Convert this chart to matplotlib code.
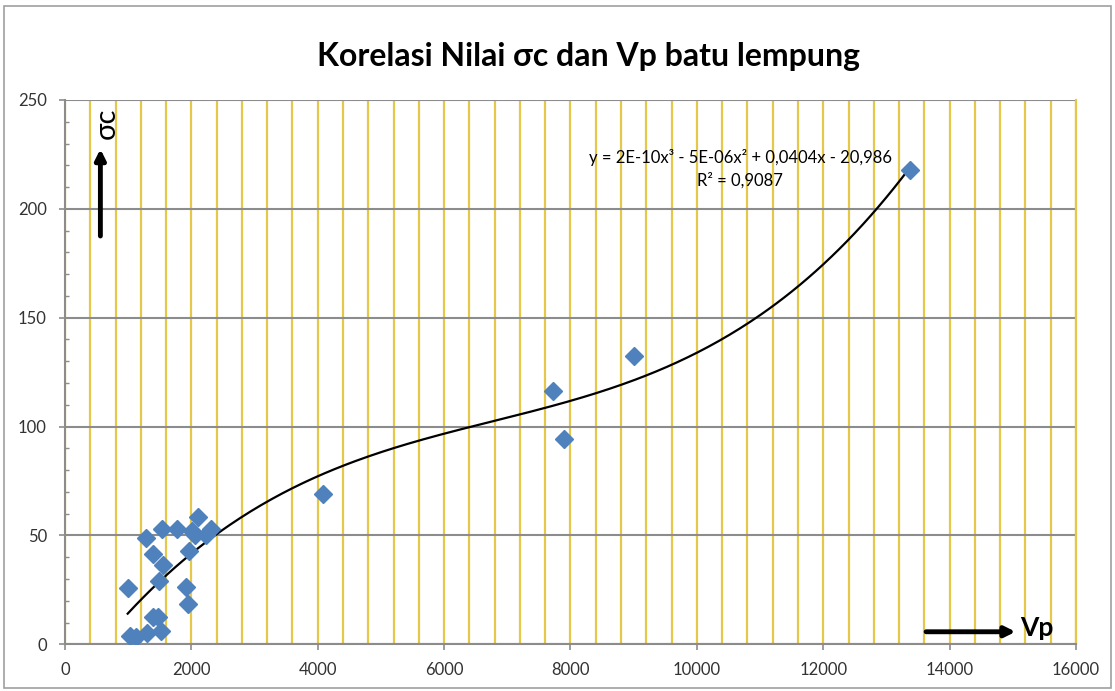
import numpy as np
import matplotlib
matplotlib.use("Agg")
import matplotlib.pyplot as plt
from matplotlib.ticker import MultipleLocator
from matplotlib.patches import Rectangle

plt.rcParams['font.family'] = ['Lato', 'DejaVu Sans']

# Vp (m/s) vs sigma_c, batu lempung
vp = [992, 1029, 1124, 1302, 1282, 1397, 1397, 1467, 1519, 1483, 1556, 1540, 1777,
      1915, 1951, 1962, 2005, 2057, 2110, 2227, 2306, 4088, 7727, 7897, 9005, 13372]
sigma_c = [25.7, 4.0, 3.5, 5.3, 48.8, 41.3, 12.4, 12.7, 6.2, 29.2, 36.4, 52.8, 53.0,
           26.5, 18.4, 42.9, 52.0, 50.2, 58.6, 50.2, 52.8, 69.0, 116.4, 94.3, 132.4, 217.9]

title = "Korelasi Nilai σc dan Vp batu lempung"
eq_text = "y = 2E-10x³ - 5E-06x² + 0,0404x - 20,986"
r2_text = "R² = 0,9087"

GOLD = "#E5C84A"
GRAY = "#8C8C8C"
BLUE = "#4F81BD"

fig = plt.figure(figsize=(11.15, 6.91), dpi=100)
fig.patches.append(Rectangle((0.004, 0.004), 0.992, 0.988, transform=fig.transFigure,
                             fill=False, edgecolor="#A0A0A0", linewidth=1.2))
ax = fig.add_axes([0.0583, 0.0676, 0.9067, 0.7877])

ax.set_xlim(0, 16000)
ax.set_ylim(0, 250)
ax.xaxis.set_major_locator(MultipleLocator(2000))
ax.xaxis.set_minor_locator(MultipleLocator(400))
ax.yaxis.set_major_locator(MultipleLocator(50))
ax.yaxis.set_minor_locator(MultipleLocator(10))

ax.grid(True, axis="x", which="both", color=GOLD, linewidth=1.6)
ax.grid(True, axis="y", which="major", color=GRAY, linewidth=1.5)
ax.set_axisbelow(True)

ax.spines["top"].set_visible(False)
ax.spines["right"].set_color(GOLD)
ax.spines["right"].set_linewidth(1.6)
for side in ("left", "bottom"):
    ax.spines[side].set_color(GRAY)
    ax.spines[side].set_linewidth(1.5)

ax.tick_params(axis="both", which="major", length=4, width=1.2, color=GRAY,
               labelsize=12, labelcolor="#333333", pad=9)
ax.tick_params(axis="x", which="minor", length=0)
ax.tick_params(axis="y", which="minor", direction="in", length=3, width=1, color=GRAY)

# trend line (3rd order polynomial)
coef = np.polyfit(vp, sigma_c, 3)
xs = np.linspace(min(vp), max(vp), 300)
ax.plot(xs, np.polyval(coef, xs), color="black", linewidth=1.6, zorder=3)

ax.plot(vp, sigma_c, linestyle="none", marker="D", markersize=9,
        color=BLUE, markeredgecolor=BLUE, zorder=4)

ax.text(0.668, 0.895, eq_text, transform=ax.transAxes, ha="center", va="center",
        fontsize=12)
ax.text(0.668, 0.853, r2_text, transform=ax.transAxes, ha="center", va="center",
        fontsize=12)

fig.text(0.528, 0.918, title, ha="center", va="center", fontsize=23, fontweight="bold")

# axis arrows
ax.annotate("", xy=(0.035, 0.915), xytext=(0.035, 0.745), xycoords="axes fraction",
            arrowprops=dict(arrowstyle="-|>,head_length=0.6,head_width=0.3",
                            color="black", lw=3.5))
ax.text(0.041, 0.958, "σc", transform=ax.transAxes, rotation=90, ha="center",
        va="center", fontsize=21)
ax.annotate("", xy=(0.943, 0.023), xytext=(0.849, 0.023), xycoords="axes fraction",
            arrowprops=dict(arrowstyle="-|>,head_length=0.6,head_width=0.3",
                            color="black", lw=3.5))
ax.text(0.945, 0.03, "Vp", transform=ax.transAxes, ha="left", va="center",
        fontsize=19, fontweight="bold")

fig.savefig("out.png", dpi=100)
